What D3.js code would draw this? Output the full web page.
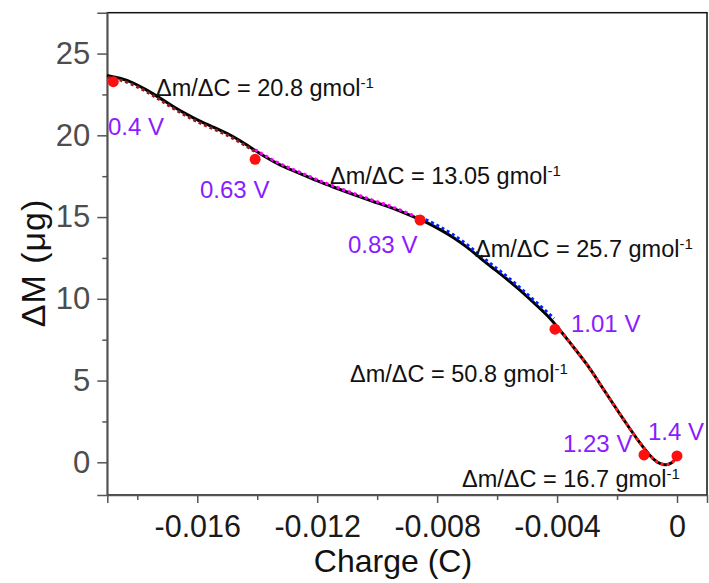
<!DOCTYPE html>
<html>
<head>
<meta charset="utf-8">
<script src="https://cdn.jsdelivr.net/npm/d3@7"></script>
<style>
  body { margin: 0; background: #fff; }
  svg { display: block; font-family: Arial, "Liberation Sans", sans-serif; }
</style>
</head>
<body>
<svg id="chart" width="709" height="583"></svg>
<script>
// Mass change vs. passed charge (EQCM), measured trace
const curveCharge = [-0.01901, -0.01858, -0.01814, -0.01768, -0.01724, -0.01681, -0.01634, -0.01591,
  -0.01547, -0.01501, -0.01457, -0.01414, -0.01367, -0.01324, -0.01281, -0.01234, -0.01191, -0.01147,
  -0.01101, -0.01057, -0.01014, -0.00967, -0.00924, -0.00880, -0.00834, -0.00790, -0.00747, -0.00700,
  -0.00657, -0.00614, -0.00567, -0.00524, -0.00480, -0.00434, -0.00390, -0.00347, -0.00300, -0.00257,
  -0.00213, -0.00167, -0.00123, -0.00090, -0.00067, -0.00040, -0.00017, 0.00000];
const curveMass = [23.66, 23.51, 23.23, 22.77, 22.28, 21.76, 21.27, 20.85,
  20.51, 20.14, 19.68, 19.16, 18.61, 18.18, 17.85, 17.48, 17.14, 16.84,
  16.53, 16.23, 15.95, 15.68, 15.37, 15.03, 14.67, 14.24, 13.78, 13.17,
  12.50, 11.88, 11.21, 10.54, 9.80, 9.04, 8.09, 7.08, 6.01, 4.79,
  3.57, 2.31, 1.15, 0.39, -0.01, -0.20, -0.07, 0.32];

// Linear-regime fits for each potential window
const fit1Charge = [-0.01898, -0.01858, -0.01814, -0.01768, -0.01724, -0.01681, -0.01634, -0.01591, -0.01547, -0.01501, -0.01457, -0.01407];
const fit1Mass   = [23.55, 23.40, 23.12, 22.66, 22.17, 21.65, 21.16, 20.74, 20.40, 20.03, 19.57, 19.00];
const fit2Charge = [-0.01407, -0.01367, -0.01324, -0.01281, -0.01234, -0.01191, -0.01147, -0.01101, -0.01057, -0.01014, -0.00967, -0.00924, -0.00880, -0.00857];
const fit2Mass   = [19.12, 18.68, 18.25, 17.92, 17.55, 17.21, 16.91, 16.60, 16.30, 16.02, 15.75, 15.44, 15.10, 14.92];
const fit3Charge = [-0.00857, -0.00834, -0.00790, -0.00747, -0.00700, -0.00657, -0.00614, -0.00567, -0.00524, -0.00480, -0.00434, -0.00410];
const fit3Mass   = [14.98, 14.82, 14.40, 13.94, 13.33, 12.66, 12.04, 11.37, 10.70, 9.96, 9.20, 8.80];
const fit4Charge = [-0.00407, -0.00390, -0.00347, -0.00300, -0.00257, -0.00213, -0.00167, -0.00123, -0.00090, -0.00067, -0.00040, -0.00017, 0.00000];
const fit4Mass   = [8.30, 8.09, 7.08, 6.01, 4.79, 3.57, 2.31, 1.15, 0.39, -0.01, -0.20, -0.07, 0.32];

// Marked potentials
const pointCharge = [-0.01880, -0.01407, -0.00857, -0.00407, -0.00110, 0.00000];
const pointMass   = [23.28, 18.53, 14.82, 8.14, 0.45, 0.39];
const pointLabels = ["0.4 V", "0.63 V", "0.83 V", "1.01 V", "1.23 V", "1.4 V"];

// Slope annotations
const slopeTexts = ["20.8", "13.05", "25.7", "50.8", "16.7"];

const xTicks = [-0.016, -0.012, -0.008, -0.004, 0];
const xTickLabels = ["-0.016", "-0.012", "-0.008", "-0.004", "0"];
const xMinorTicks = [-0.018, -0.014, -0.010, -0.006, -0.002];
const yTicks = [0, 5, 10, 15, 20, 25];
const yMinorTicks = [2.5, 7.5, 12.5, 17.5, 22.5];

const svg = d3.select("#chart");
const plotLeft = 107.3, plotRight = 707, plotTop = 12.7, plotBottom = 495;

const x = d3.scaleLinear().domain([-0.019, 0.001]).range([plotLeft, plotRight]);
const y = d3.scaleLinear().domain([-2, 27.5]).range([plotBottom, plotTop]);

const axisGrey = "#555";
const fontStack = "Arial, 'Liberation Sans', sans-serif";

// frame
svg.append("rect")
  .attr("x", plotLeft).attr("y", plotTop)
  .attr("width", plotRight - plotLeft).attr("height", plotBottom - plotTop)
  .attr("fill", "none").attr("stroke", "#111").attr("stroke-width", 1.5);

// y axis
const yAxis = svg.append("g").attr("transform", `translate(${plotLeft},0)`)
  .call(d3.axisLeft(y).tickValues(yTicks).tickSize(10).tickPadding(7).tickFormat(d3.format("d")));
yAxis.select(".domain").attr("stroke", axisGrey).attr("stroke-width", 1.5);
yAxis.selectAll(".tick line").attr("stroke", axisGrey).attr("stroke-width", 1.5);
yAxis.selectAll(".tick text").attr("fill", "#4d4d4d").attr("font-size", 31).attr("font-family", fontStack);
svg.append("g").attr("transform", `translate(${plotLeft},0)`)
  .call(d3.axisLeft(y).tickValues(yMinorTicks).tickSize(5).tickFormat(""))
  .call(g => g.select(".domain").remove())
  .selectAll(".tick line").attr("stroke", axisGrey).attr("stroke-width", 1.5);

// x axis
const xAxis = svg.append("g").attr("transform", `translate(0,${plotBottom})`)
  .call(d3.axisBottom(x).tickValues(xTicks).tickSize(8).tickPadding(12)
    .tickFormat((d, i) => xTickLabels[i]));
xAxis.select(".domain").attr("stroke", axisGrey).attr("stroke-width", 1.5);
xAxis.selectAll(".tick line").attr("stroke", axisGrey).attr("stroke-width", 1.5);
xAxis.selectAll(".tick text").attr("fill", "#1a1a1a").attr("font-size", 30.5).attr("font-family", fontStack);
svg.append("g").attr("transform", `translate(0,${plotBottom})`)
  .call(d3.axisBottom(x).tickValues(xMinorTicks).tickSize(5).tickFormat(""))
  .call(g => g.select(".domain").remove())
  .selectAll(".tick line").attr("stroke", axisGrey).attr("stroke-width", 1.5);

// axis titles
svg.append("text")
  .attr("transform", "translate(45,263) rotate(-90)")
  .attr("text-anchor", "middle").attr("font-size", 34).attr("fill", "#111")
  .attr("letter-spacing", 1)
  .text("ΔM (μg)");
svg.append("text")
  .attr("x", 393).attr("y", 572)
  .attr("text-anchor", "middle").attr("font-size", 32).attr("fill", "#111")
  .text("Charge (C)");

// plot content: B-spline through the sampled trace keeps it smooth
const plot = svg.append("g");
const line = d3.line().x(d => x(d[0])).y(d => y(d[1])).curve(d3.curveBasis);

plot.append("path")
  .datum(d3.zip(curveCharge, curveMass))
  .attr("d", line).attr("fill", "none")
  .attr("stroke", "#000").attr("stroke-width", 3);

const fits = [
  { c: fit1Charge, m: fit1Mass, color: "#8b1e1e" },
  { c: fit2Charge, m: fit2Mass, color: "#ff00ff" },
  { c: fit3Charge, m: fit3Mass, color: "#0022ff" },
  { c: fit4Charge, m: fit4Mass, color: "#ff1a1a" }
];
fits.forEach(f => {
  plot.append("path")
    .datum(d3.zip(f.c, f.m))
    .attr("d", line).attr("fill", "none")
    .attr("stroke", f.color).attr("stroke-width", 3)
    .attr("stroke-dasharray", "3,3");
});

plot.selectAll("circle.pt")
  .data(d3.zip(pointCharge, pointMass))
  .join("circle").attr("class", "pt")
  .attr("cx", d => x(d[0])).attr("cy", d => y(d[1]))
  .attr("r", 5.5).attr("fill", "#ff1010");

// potential labels
const labelPos = [[108, 135], [200, 198], [348, 253], [571, 332], [563, 452], [648, 440]];
pointLabels.forEach((t, i) => {
  svg.append("text")
    .attr("x", labelPos[i][0]).attr("y", labelPos[i][1])
    .attr("font-size", 24).attr("fill", "#8a1cff")
    .text(t);
});

// slope annotations
const slopePos = [[156, 96], [330, 184], [475, 257], [350, 382], [462, 487]];
slopeTexts.forEach((v, i) => {
  const t = svg.append("text")
    .attr("x", slopePos[i][0]).attr("y", slopePos[i][1])
    .attr("font-size", 23.5).attr("fill", "#111");
  t.append("tspan").text(`Δm/ΔC = ${v} gmol`);
  t.append("tspan").attr("dy", -8).attr("font-size", 15).text("-1");
});
</script>
</body>
</html>
